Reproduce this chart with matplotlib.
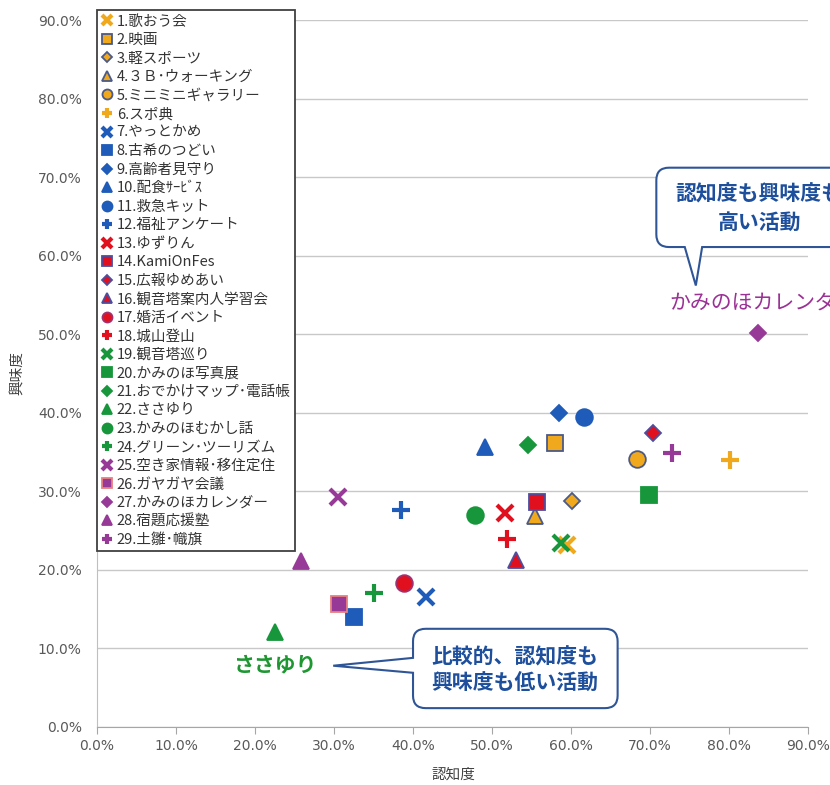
import matplotlib
matplotlib.use('Agg')
import matplotlib.pyplot as plt
from matplotlib.path import Path
from matplotlib.patches import PathPatch
from matplotlib.ticker import PercentFormatter, MultipleLocator

plt.rcParams['font.family'] = ['Noto Sans CJK JP', 'DejaVu Sans']

# 活動名・認知度(%)・興味度(%)
activities = [
    '1.歌おう会', '2.映画', '3.軽スポーツ', '4.３Ｂ･ウォーキング', '5.ミニミニギャラリー',
    '6.スポ典', '7.やっとかめ', '8.古希のつどい', '9.高齢者見守り', '10.配食ｻｰﾋﾞｽ',
    '11.救急キット', '12.福祉アンケート', '13.ゆずりん', '14.KamiOnFes', '15.広報ゆめあい',
    '16.観音塔案内人学習会', '17.婚活イベント', '18.城山登山', '19.観音塔巡り',
    '20.かみのほ写真展', '21.おでかけマップ･電話帳', '22.ささゆり', '23.かみのほむかし話',
    '24.グリーン･ツーリズム', '25.空き家情報･移住定住', '26.ガヤガヤ会議',
    '27.かみのほカレンダー', '28.宿題応援塾', '29.土雛･幟旗',
]
awareness = [59.5, 58.0, 60.1, 55.4, 68.4, 80.1, 41.6, 32.5, 58.5, 49.1,
             61.6, 38.5, 51.6, 55.7, 70.4, 53.0, 38.9, 51.9, 58.7, 69.9,
             54.6, 22.5, 47.8, 35.1, 30.5, 30.6, 83.7, 25.8, 72.8]
interest = [23.2, 36.1, 28.8, 26.8, 34.1, 34.0, 16.5, 14.0, 40.0, 35.7,
            39.4, 27.6, 27.2, 28.6, 37.4, 21.2, 18.3, 23.9, 23.4, 29.5,
            35.9, 12.1, 27.0, 17.0, 29.3, 15.6, 50.1, 21.1, 34.9]

# 系列ごとのマーカー形状と色
shapes = ['x', 's', 'D', '^', 'o', '+'] * 4 + ['x', 's', 'D', '^', '+']
palette = ['#F0A81C', '#1F5BB8', '#E0101E', '#17963C', '#973A97']
shape_size = {'x': 11, 's': 11, 'D': 8.5, '^': 12, 'o': 12, '+': 13}
edge_override = {2: '#4A5A8A', 3: '#4A5A8A', 4: '#4A5A8A', 5: '#4A5A8A',
                 14: '#4B4FA0', 15: '#4B4FA0', 16: '#4B4FA0', 17: '#A03070',
                 26: '#E88080'}

fig = plt.figure(figsize=(8.3, 7.85), dpi=100)
ax = fig.add_axes([0.1169, 0.0739, 0.8566, 0.9006])

for i, (name, xv, yv) in enumerate(zip(activities, awareness, interest)):
    shp = shapes[i]
    col = palette[i // 6]
    ec = edge_override.get(i + 1, col)
    if shp in ('x', '+'):
        ax.plot([xv], [yv], linestyle='none', marker=shp, markersize=shape_size[shp],
                mew=3, color=col, label=name, zorder=3)
    else:
        ax.plot([xv], [yv], linestyle='none', marker=shp, markersize=shape_size[shp],
                mfc=col, mec=ec, mew=1.3, label=name, zorder=3)

ax.set_xlim(0, 90)
ax.set_ylim(0, 90)
ax.xaxis.set_major_locator(MultipleLocator(10))
ax.yaxis.set_major_locator(MultipleLocator(10))
ax.xaxis.set_major_formatter(PercentFormatter(decimals=1))
ax.yaxis.set_major_formatter(PercentFormatter(decimals=1))
for lbl in ax.get_xticklabels() + ax.get_yticklabels():
    lbl.set_family('DejaVu Sans')
ax.tick_params(axis='x', length=5, color='#A6A6A6', labelcolor='#595959', labelsize=10, pad=4)
ax.tick_params(axis='y', length=0, labelcolor='#595959', labelsize=10, pad=11)
ax.grid(axis='y', color='#C8C8C8', lw=1)
ax.set_axisbelow(True)
for s in ['top', 'right']:
    ax.spines[s].set_visible(False)
ax.spines['bottom'].set_color('#A6A6A6')
ax.spines['left'].set_color('#BFBFBF')

fig.text(18 / 830, 1 - 373 / 785, '興味度', rotation=90, ha='center', va='center',
         fontsize=10.5, color='#404040')
fig.text(453 / 830, 1 - 775 / 785, '認知度', ha='center', va='center',
         fontsize=10.5, color='#404040')

leg = ax.legend(loc='upper left', bbox_to_anchor=(0.0, 1.014), borderaxespad=0,
                fontsize=10.5, markerscale=0.6, labelspacing=0.31, handlelength=0.8,
                handletextpad=0.25, borderpad=0.3, fancybox=False, framealpha=1,
                edgecolor='#404040')
leg.get_frame().set_linewidth(1.3)
for t in leg.get_texts():
    t.set_color('#333333')


def bubble(x0, x1, y0, y1, r, side, a, b, tip):
    """角丸の吹き出し枠(尻尾付き)"""
    verts, codes = [], []

    def add(code, *pts):
        for p in pts:
            verts.append(p)
            codes.append(code)

    add(Path.MOVETO, (x0 + r, y1))
    add(Path.LINETO, (x1 - r, y1))
    add(Path.CURVE3, (x1, y1), (x1, y1 - r))
    add(Path.LINETO, (x1, y0 + r))
    add(Path.CURVE3, (x1, y0), (x1 - r, y0))
    if side == 'bottom':
        add(Path.LINETO, (b, y0), tip, (a, y0))
    add(Path.LINETO, (x0 + r, y0))
    add(Path.CURVE3, (x0, y0), (x0, y0 + r))
    if side == 'left':
        add(Path.LINETO, (x0, a), tip, (x0, b))
    add(Path.LINETO, (x0, y1 - r))
    add(Path.CURVE3, (x0, y1), (x0 + r, y1))
    add(Path.CLOSEPOLY, (x0 + r, y1))
    patch = PathPatch(Path(verts, codes), facecolor='white', edgecolor='#2F5597',
                      lw=1.5, transform=ax.transData, clip_on=False, zorder=5)
    ax.add_patch(patch)


navy = '#1D4F9C'
# 右上の吹き出し(右端は図の外まで続く)
bubble(70.8, 97.0, 61.1, 71.2, 1.6, 'bottom', 74.4, 76.6, (75.8, 56.2))
ax.text(83.8, 67.9, '認知度も興味度も', ha='center', va='center', fontsize=15,
        fontweight='bold', color=navy, zorder=6, clip_on=False)
ax.text(83.8, 64.2, '高い活動', ha='center', va='center', fontsize=15,
        fontweight='bold', color=navy, zorder=6, clip_on=False)
ax.text(72.5, 53.9, 'かみのほカレンダー', ha='left', va='center', fontsize=15,
        color='#9B3195', zorder=6, clip_on=False)

# 下の吹き出し
bubble(40.0, 65.9, 2.4, 12.5, 1.6, 'left', 6.9, 8.8, (29.9, 7.8))
ax.text(52.9, 8.9, '比較的、認知度も', ha='center', va='center', fontsize=15,
        fontweight='bold', color=navy, zorder=6)
ax.text(52.9, 5.6, '興味度も低い活動', ha='center', va='center', fontsize=15,
        fontweight='bold', color=navy, zorder=6)
ax.text(22.5, 7.9, 'ささゆり', ha='center', va='center', fontsize=15,
        fontweight='bold', color='#1E9632', zorder=6)

fig.savefig('out.png', dpi=100)
